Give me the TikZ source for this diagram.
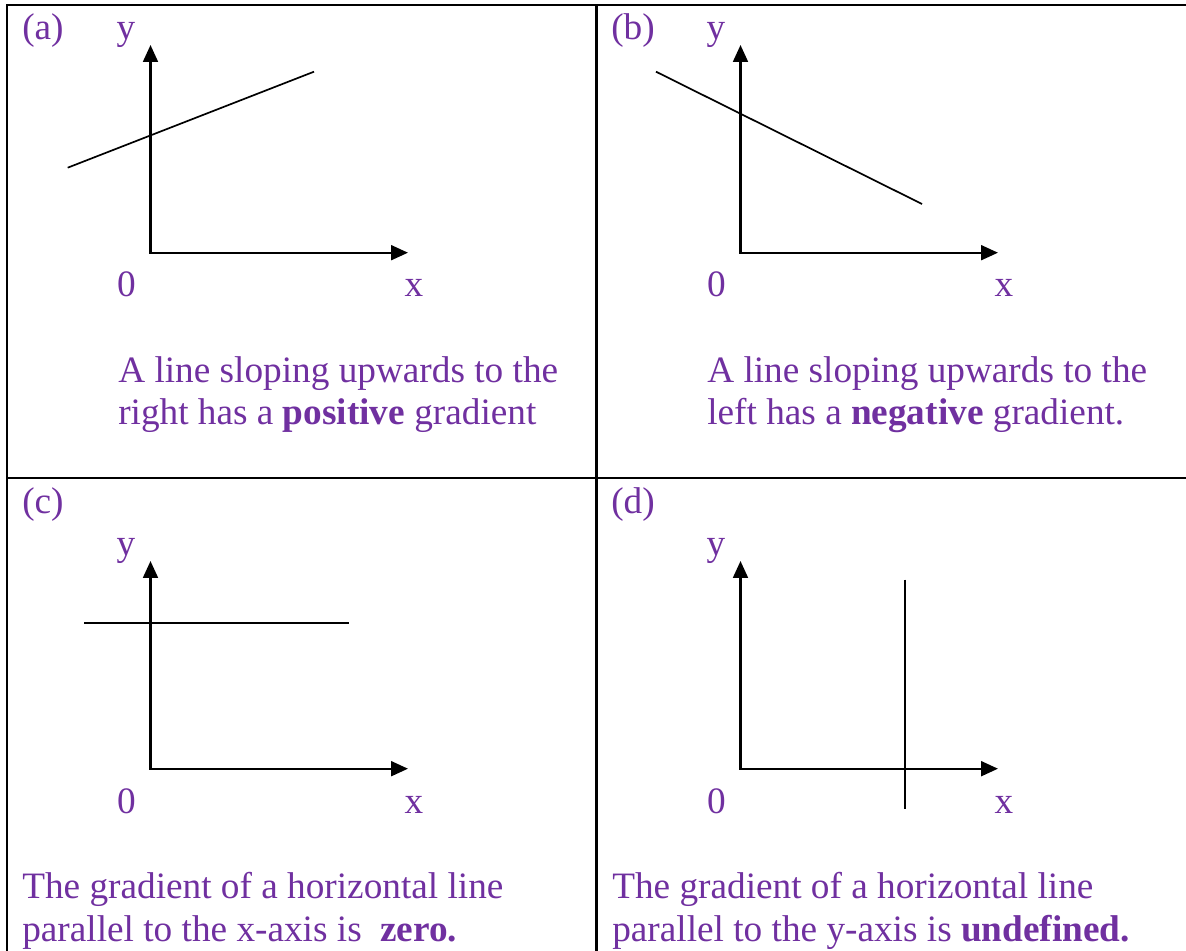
\documentclass[tikz,border=0pt]{standalone}
\usepackage{fontspec}
\setmainfont{Liberation Serif}
\usepackage{tikz}
\usetikzlibrary{arrows.meta, positioning}
\definecolor{txtpurple}{HTML}{7030A0}
\tikzset{
  txt/.style={text=txtpurple, font=\fontsize{26.5}{29.9}\selectfont, inner sep=0pt},
  axis/.style={line width=1.7pt, {Triangle[length=12pt,width=10.5pt]}-{Triangle[length=12pt,width=10.5pt]}},
  graphline/.style={line width=1.2pt},
  grid/.style={line width=1.9pt}
}

\begin{document}
\begin{tikzpicture}[x=0.025cm, y=-0.025cm]
    \useasboundingbox (0,0) rectangle (1186,951);
    % table lines
    \coordinate (tl) at (7,5); \coordinate (tr) at (1186,5);
    \coordinate (bl) at (7,951); \coordinate (tm) at (596.5,5); \coordinate (bm) at (596.5,951);
    \coordinate (ml) at (7,478); \coordinate (mr) at (1186,478);
    \draw[grid] (bl) -- (tl) -- (tr);
    \draw[grid] (tm) -- (bm);
    \draw[grid] (ml) -- (mr);
    % axes in each cell
    \foreach \p/\dx/\dy in {a/0/0, b/590/0, c/0/516, d/590/516} {
        \begin{scope}[shift={(\dx,\dy)}]
            \coordinate (O\p) at (150.5,252.7);
            \coordinate (Y\p) at (150.5,45);
            \coordinate (X\p) at (408,252.7);
            \draw[axis] (Y\p) -- (O\p) -- (X\p);
            \node[txt, anchor=base] (ylab\p) at (126,40) {y};
            \node[txt, anchor=base] (zero\p) at (126.5,297) {0};
            \node[txt, anchor=base] (xlab\p) at (414,297) {x};
        \end{scope}
    }
    \node[txt, anchor=base west] (capa) at (22,40) {(a)};
    \node[txt, anchor=base west] (capb) at (611,40) {(b)};
    \node[txt, anchor=base west] (capc) at (22,514) {(c)};
    \node[txt, anchor=base west] (capd) at (611,514) {(d)};
    % the four lines
    \coordinate (a1) at (67.7,167.7); \coordinate (a2) at (314,71.7);
    \draw[graphline] (a1) -- (a2);
    \coordinate (b1) at (656,71.7); \coordinate (b2) at (922,204);
    \draw[graphline] (b1) -- (b2);
    \coordinate (c1) at (84,623); \coordinate (c2) at (349,623);
    \draw[graphline] (c1) -- (c2);
    \coordinate (d1) at (905.3,579.7); \coordinate (d2) at (905.3,808.7);
    \draw[graphline] (d1) -- (d2);
    % captions (base = last line)
    \node[txt, anchor=base west, align=left] (texta) at (118,425) {A line sloping upwards to the\\right has a \textbf{positive} gradient};
    \node[txt, anchor=base west, align=left] (textb) at (707,425) {A line sloping upwards to the\\left has a \textbf{negative} gradient.};
    \node[txt, anchor=base west, align=left] (textc) at (22,941) {The gradient of a horizontal line\\parallel to the x-axis is~ \textbf{zero.}};
    \node[txt, anchor=base west, align=left] (textd) at (612,941) {The gradient of a horizontal line\\parallel to the y-axis is \textbf{undefined.}};
\end{tikzpicture}
\end{document}
